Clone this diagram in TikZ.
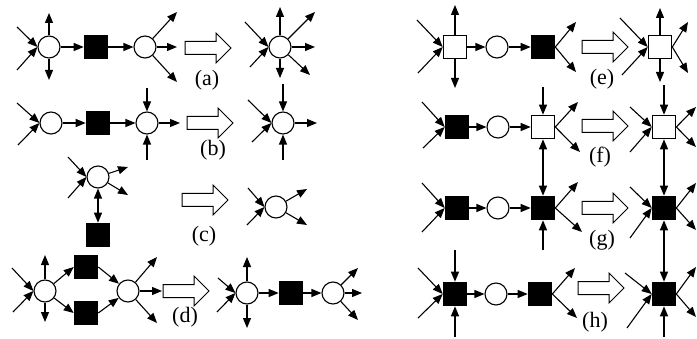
\documentclass[tikz,border=0pt]{standalone}
\usepackage{fontspec}
\setmainfont{Liberation Serif}
\usepackage{tikz}
\usetikzlibrary{arrows.meta}

\tikzset{
  pl/.style={circle, draw, fill=white, minimum size=22pt, inner sep=0pt, line width=1.1pt},
  blk/.style={rectangle, draw, fill=black, minimum size=23.5pt, inner sep=0pt, line width=1.1pt},
  wht/.style={rectangle, draw, fill=white, minimum size=23.5pt, inner sep=0pt, line width=1.1pt},
  lbl/.style={font=\fontsize{22}{22}\selectfont, inner sep=0pt},
  bigarrow/.pic={
    \draw[fill=white, line width=1pt] (0,-6.5) -- (31,-6.5) -- (31,-15) -- (46,0)
      -- (31,15) -- (31,6.5) -- (0,6.5) -- cycle;
  }
}

\begin{document}
\begin{tikzpicture}[x=1pt, y=1pt, line width=1.1pt,
  >={Triangle[length=10pt,width=8pt]}]
\useasboundingbox (0,0) rectangle (697,338);

%====================================================
% LEFT HALF
%====================================================

%---------------------------------------
% (a)
%---------------------------------------
\node[pl]  (a1) at (49,291) {};
\node[blk] (a2) at (96,291) {};
\node[pl]  (a3) at (145,291) {};
\node[pl]  (a4) at (280,291) {};

\coordinate (a1in1) at (17,311);
\coordinate (a1in2) at (17,268);
\coordinate (a1up)  at (49,325);
\coordinate (a1dn)  at (49,258);
\coordinate (a3o1)  at (177,326);
\coordinate (a3o2)  at (177,291);
\coordinate (a3o3)  at (177,256);
\coordinate (a4in1) at (245,316);
\coordinate (a4in2) at (250,271);
\coordinate (a4up)  at (280,331);
\coordinate (a4dn)  at (280,260);
\coordinate (a4o1)  at (315,326);
\coordinate (a4o2)  at (315,291);
\coordinate (a4o3)  at (310,263);

\draw[->] (a1in1) -- (a1.west);
\draw[->] (a1in2) -- (a1.west);
\draw[->] (a1) -- (a1up);
\draw[->] (a1) -- (a1dn);
\draw[->] (a1) -- (a2);
\draw[->] (a2) -- (a3);
\foreach \o in {a3o1,a3o2,a3o3} \draw[->] (a3) -- (\o);

\pic at (185,290) {bigarrow};
\node[lbl] (la) at (207,258) {(a)};

\draw[->] (a4in1) -- (a4.west);
\draw[->] (a4in2) -- (a4.west);
\foreach \o in {a4up,a4dn,a4o1,a4o2,a4o3} \draw[->] (a4) -- (\o);

%---------------------------------------
% (b)
%---------------------------------------
\node[pl]  (b1) at (51,215) {};
\node[blk] (b2) at (98,215) {};
\node[pl]  (b3) at (147,215) {};
\node[pl]  (b4) at (283,215) {};

\coordinate (b1in1) at (17,235);
\coordinate (b1in2) at (18,193);
\coordinate (b3up)  at (147,250);
\coordinate (b3dn)  at (147,178);
\coordinate (b3o)   at (180,215);
\coordinate (b4in1) at (248,238);
\coordinate (b4in2) at (252,196);
\coordinate (b4up)  at (283,254);
\coordinate (b4dn)  at (283,178);
\coordinate (b4o)   at (317,215);

\draw[->] (b1in1) -- (b1.west);
\draw[->] (b1in2) -- (b1.west);
\draw[->] (b1) -- (b2);
\draw[->] (b2) -- (b3);
\draw[->] (b3up) -- (b3);
\draw[->] (b3dn) -- (b3);
\draw[->] (b3) -- (b3o);

\pic at (187,215) {bigarrow};
\node[lbl] (lb) at (213,188) {(b)};

\draw[->] (b4in1) -- (b4.west);
\draw[->] (b4in2) -- (b4.west);
\draw[->] (b4up) -- (b4);
\draw[->] (b4dn) -- (b4);
\draw[->] (b4) -- (b4o);

%---------------------------------------
% (c)
%---------------------------------------
\node[pl]  (c1) at (98,161) {};
\node[blk] (c2) at (98,103) {};
\node[pl]  (c3) at (276,131) {};

\coordinate (c1in1) at (68,181);
\coordinate (c1in2) at (68,140);
\coordinate (c1o1)  at (128,171);
\coordinate (c1o2)  at (128,143);
\coordinate (c3in1) at (248,150);
\coordinate (c3in2) at (247,113);
\coordinate (c3o1)  at (307,149);
\coordinate (c3o2)  at (307,113);

\draw[->] (c1in1) -- (c1.west);
\draw[->] (c1in2) -- (c1.west);
\draw[->] (c1) -- (c1o1);
\draw[->] (c1) -- (c1o2);
\draw[<->] (c1) -- (c2);

\pic at (182,138) {bigarrow};
\node[lbl] (lc) at (204,102) {(c)};

\draw[->] (c3in1) -- (c3.west);
\draw[->] (c3in2) -- (c3.west);
\draw[->] (c3) -- (c3o1);
\draw[->] (c3) -- (c3o2);

%---------------------------------------
% (d)
%---------------------------------------
\node[pl]  (d1) at (45,47) {};
\node[blk] (d2) at (86,71) {};
\node[blk] (d3) at (86,25) {};
\node[pl]  (d4) at (128,47) {};
\node[pl]  (d5) at (247,45) {};
\node[blk] (d6) at (291,45) {};
\node[pl]  (d7) at (333,45) {};

\coordinate (d1in1) at (12,70);
\coordinate (d1in2) at (13,26);
\coordinate (d1up)  at (45,83);
\coordinate (d1dn)  at (45,16);
\coordinate (d4o1)  at (157,81);
\coordinate (d4o2)  at (162,47);
\coordinate (d4o3)  at (157,15);
\coordinate (d5in1) at (218,60);
\coordinate (d5in2) at (217,26);
\coordinate (d5up)  at (247,81);
\coordinate (d5dn)  at (247,10);
\coordinate (d7o1)  at (358,70);
\coordinate (d7o2)  at (362,45);
\coordinate (d7o3)  at (358,18);

\draw[->] (d1in1) -- (d1.west);
\draw[->] (d1in2) -- (d1.west);
\draw[->] (d1) -- (d1up);
\draw[->] (d1) -- (d1dn);
\draw[->] (d1) -- (d2.west);
\draw[->] (d1) -- (d3.west);
\draw[->] (d2.east) -- (d4);
\draw[->] (d3.east) -- (d4);
\foreach \o in {d4o1,d4o2,d4o3} \draw[->] (d4) -- (\o);

\pic at (163,47) {bigarrow};
\node[lbl] (ld) at (185,21) {(d)};

\draw[->] (d5in1) -- (d5.west);
\draw[->] (d5in2) -- (d5.west);
\draw[->] (d5) -- (d5up);
\draw[->] (d5) -- (d5dn);
\draw[->] (d5) -- (d6);
\draw[->] (d6) -- (d7);
\foreach \o in {d7o1,d7o2,d7o3} \draw[->] (d7) -- (\o);

%====================================================
% RIGHT HALF
%====================================================

%---------------------------------------
% (e)
%---------------------------------------
\node[wht] (e1) at (455,291) {};
\node[pl]  (e2) at (497,291) {};
\node[blk] (e3) at (543,291) {};
\node[wht] (e4) at (660,291) {};

\coordinate (e1in1) at (417,318);
\coordinate (e1in2) at (418,265);
\coordinate (e1up)  at (455,333);
\coordinate (e1dn)  at (455,250);
\coordinate (e3o1)  at (576,316);
\coordinate (e3o2)  at (576,266);
\coordinate (e4in1) at (620,320);
\coordinate (e4in2) at (622,263);
\coordinate (e4up)  at (660,330);
\coordinate (e4dn)  at (660,256);
\coordinate (e4o1)  at (688,316);
\coordinate (e4o2)  at (688,265);

\draw[->] (e1in1) -- (e1.west);
\draw[->] (e1in2) -- (e1.west);
\draw[->] (e1) -- (e1up);
\draw[->] (e1) -- (e1dn);
\draw[->] (e1) -- (e2);
\draw[->] (e2) -- (e3);
\draw[->] (e3.east) -- (e3o1);
\draw[->] (e3.east) -- (e3o2);

\pic at (582,291) {bigarrow};
\node[lbl] (le) at (602,259) {(e)};

\draw[->] (e4in1) -- (e4.west);
\draw[->] (e4in2) -- (e4.west);
\draw[->] (e4) -- (e4up);
\draw[->] (e4) -- (e4dn);
\draw[->] (e4.east) -- (e4o1);
\draw[->] (e4.east) -- (e4o2);

%---------------------------------------
% (f)
%---------------------------------------
\node[blk] (f1) at (457,211) {};
\node[pl]  (f2) at (498,211) {};
\node[wht] (f3) at (543,211) {};
\node[wht] (f4) at (664,211) {};

\coordinate (f1in1) at (422,236);
\coordinate (f1in2) at (423,190);
\coordinate (f3up)  at (543,251);
\coordinate (f3o1)  at (578,236);
\coordinate (f3o2)  at (580,186);
\coordinate (f4in1) at (630,231);
\coordinate (f4in2) at (630,186);
\coordinate (f4up)  at (664,253);
\coordinate (f4o1)  at (696,231);
\coordinate (f4o2)  at (696,191);

\draw[->] (f1in1) -- (f1.west);
\draw[->] (f1in2) -- (f1.west);
\draw[->] (f1) -- (f2);
\draw[->] (f2) -- (f3);
\draw[->] (f3up) -- (f3);
\draw[->] (f3.east) -- (f3o1);
\draw[->] (f3.east) -- (f3o2);

\pic at (582,212) {bigarrow};
\node[lbl] (lf) at (600,181) {(f)};

\draw[->] (f4in1) -- (f4.west);
\draw[->] (f4in2) -- (f4.west);
\draw[->] (f4up) -- (f4);
\draw[->] (f4.east) -- (f4o1);
\draw[->] (f4.east) -- (f4o2);

%---------------------------------------
% (g)
%---------------------------------------
\node[blk] (g1) at (457,130) {};
\node[pl]  (g2) at (498,130) {};
\node[blk] (g3) at (543,130) {};
\node[blk] (g4) at (664,130) {};

\coordinate (g1in1) at (422,155);
\coordinate (g1in2) at (422,106);
\coordinate (g3dn)  at (543,88);
\coordinate (g3o1)  at (578,156);
\coordinate (g3o2)  at (582,106);
\coordinate (g4in1) at (630,151);
\coordinate (g4in2) at (630,100);
\coordinate (g4o1)  at (696,155);
\coordinate (g4o2)  at (696,108);

\draw[->] (g1in1) -- (g1.west);
\draw[->] (g1in2) -- (g1.west);
\draw[->] (g1) -- (g2);
\draw[->] (g2) -- (g3);
\draw[<->] (f3) -- (g3);
\draw[->] (g3dn) -- (g3);
\draw[->] (g3.east) -- (g3o1);
\draw[->] (g3.east) -- (g3o2);

\pic at (582,130) {bigarrow};
\node[lbl] (lg) at (602,98) {(g)};

\draw[->] (g4in1) -- (g4.west);
\draw[->] (g4in2) -- (g4.west);
\draw[<->] (f4) -- (g4);
\draw[->] (g4.east) -- (g4o1);
\draw[->] (g4.east) -- (g4o2);

%---------------------------------------
% (h)
%---------------------------------------
\node[blk] (h1) at (455,44) {};
\node[pl]  (h2) at (496,44) {};
\node[blk] (h3) at (540,44) {};
\node[blk] (h4) at (664,44) {};

\coordinate (h1up)  at (455,88);
\coordinate (h1dn)  at (455,1);
\coordinate (h1in1) at (418,70);
\coordinate (h1in2) at (418,20);
\coordinate (h3o1)  at (575,70);
\coordinate (h3o2)  at (577,20);
\coordinate (h4in1) at (625,65);
\coordinate (h4in2) at (627,10);
\coordinate (h4dn)  at (664,1);
\coordinate (h4o1)  at (696,71);
\coordinate (h4o2)  at (696,21);

\draw[->] (h1up) -- (h1);
\draw[->] (h1dn) -- (h1);
\draw[->] (h1in1) -- (h1.west);
\draw[->] (h1in2) -- (h1.west);
\draw[->] (h1) -- (h2);
\draw[->] (h2) -- (h3);
\draw[->] (h3.east) -- (h3o1);
\draw[->] (h3.east) -- (h3o2);

\pic at (578,50) {bigarrow};
\node[lbl] (lh) at (595,16) {(h)};

\draw[->] (h4in1) -- (h4.west);
\draw[->] (h4in2) -- (h4.west);
\draw[<->] (g4) -- (h4);
\draw[->] (h4dn) -- (h4);
\draw[->] (h4.east) -- (h4o1);
\draw[->] (h4.east) -- (h4o2);

\end{tikzpicture}
\end{document}
